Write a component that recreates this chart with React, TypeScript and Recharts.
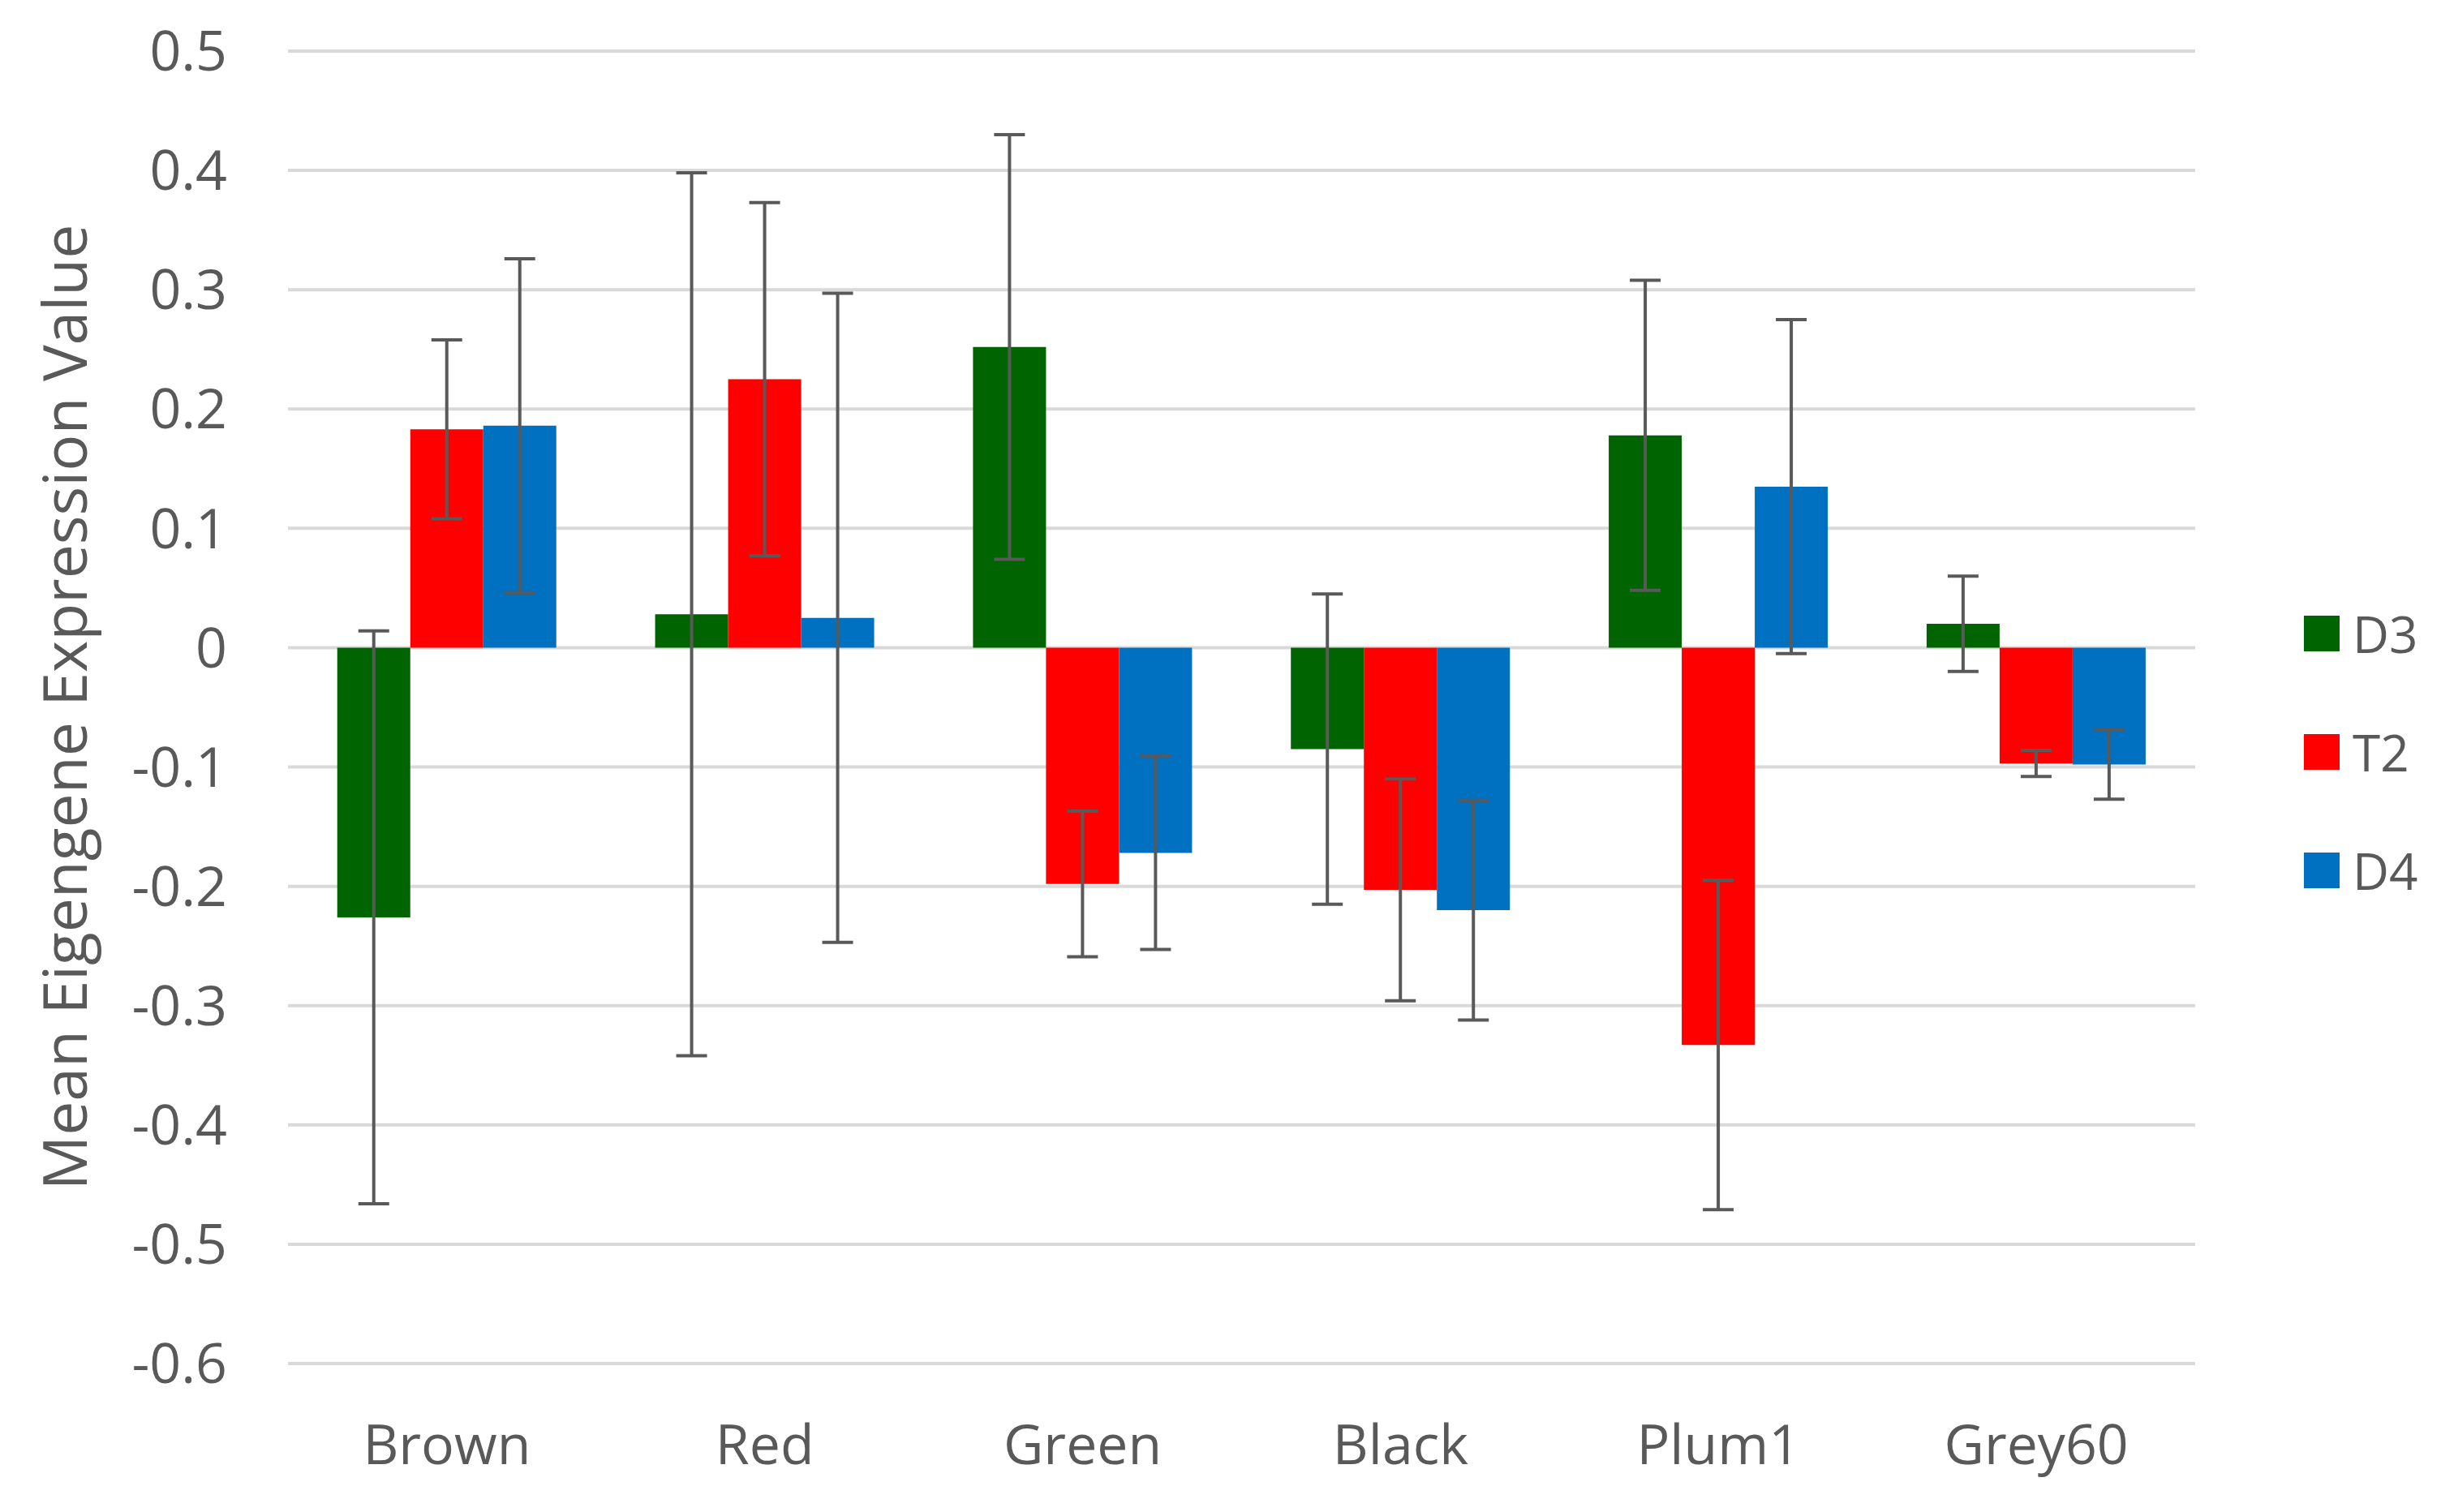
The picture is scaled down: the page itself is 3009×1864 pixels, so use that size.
import React from "react";
import {
  BarChart,
  Bar,
  XAxis,
  YAxis,
  CartesianGrid,
  ErrorBar,
  Legend,
} from "recharts";

const modules = ["Brown", "Red", "Green", "Black", "Plum1", "Grey60"];

const d3Values = [-0.226, 0.028, 0.252, -0.085, 0.178, 0.02];
const d3Errors = [0.24, 0.37, 0.178, 0.13, 0.13, 0.04];

const t2Values = [0.183, 0.225, -0.198, -0.203, -0.333, -0.097];
const t2Errors = [0.075, 0.148, 0.061, 0.093, 0.138, 0.011];

const d4Values = [0.186, 0.025, -0.172, -0.22, 0.135, -0.098];
const d4Errors = [0.14, 0.272, 0.081, 0.092, 0.14, 0.029];

const yTicks = [-0.6, -0.5, -0.4, -0.3, -0.2, -0.1, 0, 0.1, 0.2, 0.3, 0.4, 0.5];

const series = [
  { key: "D3", color: "#006400" },
  { key: "T2", color: "#ff0000" },
  { key: "D4", color: "#0070c0" },
];

const data = modules.map((name, i) => ({
  name,
  D3: d3Values[i],
  D3err: d3Errors[i],
  T2: t2Values[i],
  T2err: t2Errors[i],
  D4: d4Values[i],
  D4err: d4Errors[i],
}));

const FONT = "'Open Sans', 'Noto Sans', sans-serif";
const TEXT = "#595959";

// legend on the right, stacked squares
function SideLegend() {
  return (
    <div style={{ fontFamily: FONT, color: TEXT }}>
      {series.map((s) => (
        <div
          key={s.key}
          style={{ display: "flex", alignItems: "center", height: 146 }}
        >
          <span
            style={{
              width: 44,
              height: 44,
              backgroundColor: s.color,
              display: "inline-block",
              marginRight: 16,
            }}
          />
          <span style={{ fontSize: 62 }}>{s.key}</span>
        </div>
      ))}
    </div>
  );
}

export default function App() {
  return (
    <div style={{ position: "absolute", left: 0, top: 0, background: "#fff" }}>
      <BarChart
        width={3009}
        height={1864}
        data={data}
        margin={{ top: 63, right: 143, bottom: 153, left: 0 }}
        barCategoryGap="15.5%"
        barGap={0}
      >
        <CartesianGrid vertical={false} stroke="#d9d9d9" strokeWidth={4} />
        <XAxis
          dataKey="name"
          axisLine={false}
          tickLine={false}
          tickSize={0}
          tickMargin={76}
          tick={{ fill: TEXT, fontSize: 68, fontFamily: FONT }}
        />
        <YAxis
          width={355}
          domain={[-0.6, 0.5]}
          ticks={yTicks}
          interval={0}
          axisLine={false}
          tickLine={false}
          tickSize={0}
          tickMargin={75}
          tickFormatter={(v: number) => String(Math.round(v * 10) / 10)}
          tick={{ fill: TEXT, fontSize: 68, fontFamily: FONT }}
          label={{
            value: "Mean Eigengene Expression Value",
            angle: -90,
            position: "center",
            dx: -97,
            fill: TEXT,
            fontSize: 75,
            fontFamily: FONT,
          }}
        />
        <Legend
          layout="vertical"
          align="right"
          verticalAlign="top"
          content={() => <SideLegend />}
          wrapperStyle={{ left: 2840, top: 708, width: 160 }}
        />
        {series.map((s) => (
          <Bar
            key={s.key}
            dataKey={s.key}
            fill={s.color}
            isAnimationActive={false}
          >
            <ErrorBar
              dataKey={s.key + "err"}
              direction="y"
              width={19}
              stroke="#595959"
              strokeWidth={4}
              isAnimationActive={false}
            />
          </Bar>
        ))}
      </BarChart>
    </div>
  );
}
